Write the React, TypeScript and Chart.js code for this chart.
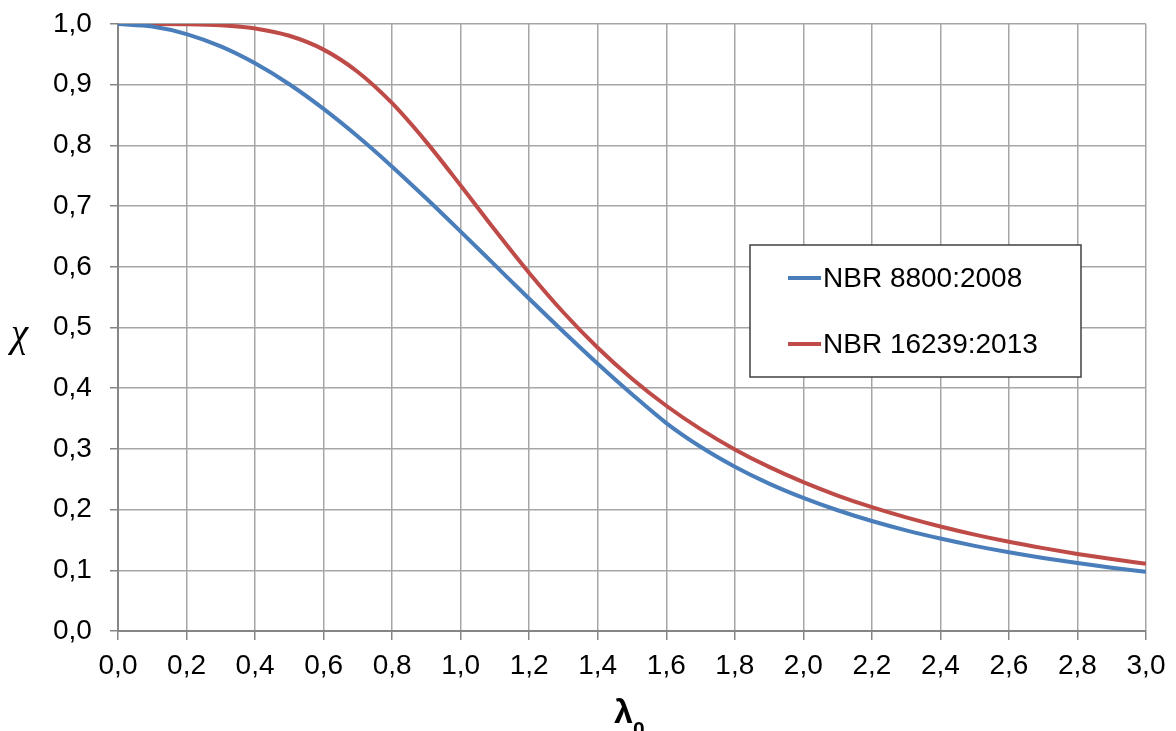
import React, { useEffect, useRef } from "react";
import { Chart, registerables } from "chart.js";

Chart.register(...registerables);

const lambda = [0.0, 0.1, 0.2, 0.3, 0.4, 0.5, 0.6, 0.7, 0.8, 0.9, 1.0, 1.1, 1.2, 1.3, 1.4, 1.5, 1.6, 1.7, 1.8, 1.9, 2.0, 2.1, 2.2, 2.3, 2.4, 2.5, 2.6, 2.7, 2.8, 2.9, 3.0];
const chiNBR8800 = [1.0, 0.9958, 0.9834, 0.963, 0.9352, 0.9007, 0.8601, 0.8146, 0.765, 0.7125, 0.658, 0.6027, 0.5473, 0.493, 0.4403, 0.39, 0.3426, 0.3035, 0.2707, 0.2429, 0.2193, 0.1989, 0.1812, 0.1658, 0.1523, 0.1403, 0.1297, 0.1203, 0.1119, 0.1043, 0.0974];
const chiNBR16239 = [1.0, 1.0, 0.9997, 0.998, 0.9927, 0.9806, 0.9578, 0.921, 0.8695, 0.8054, 0.7339, 0.6605, 0.5898, 0.5247, 0.4666, 0.4155, 0.3711, 0.3326, 0.2992, 0.2703, 0.2452, 0.2232, 0.204, 0.1871, 0.1721, 0.1588, 0.147, 0.1365, 0.127, 0.1185, 0.1108];
const seriesLabels = ["NBR 8800:2008", "NBR 16239:2013"];
const seriesColors = ["#4A7EBB", "#BE4B48"];

const fmt = (v: number) => v.toFixed(1).replace(".", ",");
const FONT = '"Liberation Sans", Arial, sans-serif';

const overlayPlugin = {
  id: "overlay",
  afterDraw(chart: any) {
    const ctx = chart.ctx;
    ctx.save();
    // legend box
    const lx = 750, ly = 245, lw = 331, lh = 132;
    ctx.fillStyle = "#ffffff";
    ctx.fillRect(lx, ly, lw, lh);
    ctx.strokeStyle = "#404040";
    ctx.lineWidth = 1.5;
    ctx.strokeRect(lx, ly, lw, lh);
    const rows = [278, 344];
    chart.data.datasets.forEach((ds: any, i: number) => {
      const y = rows[i];
      ctx.strokeStyle = ds.borderColor;
      ctx.lineWidth = 4;
      ctx.lineCap = "butt";
      ctx.beginPath();
      ctx.moveTo(788, y);
      ctx.lineTo(821, y);
      ctx.stroke();
      ctx.fillStyle = "#000000";
      ctx.font = "28px " + FONT;
      ctx.textAlign = "left";
      ctx.textBaseline = "alphabetic";
      ctx.fillText(ds.label, 823, y + 9);
    });
    // y title
    ctx.fillStyle = "#000000";
    ctx.font = 'italic 39px "Liberation Serif", serif';
    ctx.textAlign = "left";
    ctx.textBaseline = "alphabetic";
    ctx.fillText("χ", 11, 346);
    // x title
    ctx.font = "bold 34px " + FONT;
    ctx.fillText("λ", 614, 723);
    ctx.font = "bold 21px " + FONT;
    ctx.fillText("0", 633, 736);
    ctx.restore();
  },
};

export default function App() {
  const ref = useRef<HTMLCanvasElement>(null);
  useEffect(() => {
    if (!ref.current) return;
    const chart = new Chart(ref.current, {
      type: "line",
      data: {
        datasets: [
          {
            label: seriesLabels[0],
            data: lambda.map((x, i) => ({ x, y: chiNBR8800[i] })),
            borderColor: seriesColors[0],
            backgroundColor: seriesColors[0],
            borderWidth: 4,
            pointRadius: 0,
            cubicInterpolationMode: "monotone",
            fill: false,
          },
          {
            label: seriesLabels[1],
            data: lambda.map((x, i) => ({ x, y: chiNBR16239[i] })),
            borderColor: seriesColors[1],
            backgroundColor: seriesColors[1],
            borderWidth: 4,
            pointRadius: 0,
            cubicInterpolationMode: "monotone",
            fill: false,
          },
        ],
      },
      options: {
        animation: false,
        responsive: true,
        maintainAspectRatio: false,
        layout: { padding: { left: 53, top: 24, right: 30, bottom: 0 } },
        plugins: { legend: { display: false }, tooltip: { enabled: false } },
        scales: {
          x: {
            type: "linear",
            min: 0,
            max: 3,
            ticks: {
              stepSize: 0.2,
              callback: (v: any) => fmt(Number(v)),
              color: "#000000",
              font: { family: FONT, size: 28 },
              padding: 9,
              maxRotation: 0,
              autoSkip: false,
            },
            grid: { color: "#A6A6A6", lineWidth: 1.5, tickLength: 9, tickColor: "#868686" },
            border: { color: "#868686", width: 2 },
            afterFit: (s: any) => {
              s.height = 100;
            },
          },
          y: {
            type: "linear",
            min: 0,
            max: 1,
            ticks: {
              stepSize: 0.1,
              callback: (v: any) => fmt(Number(v)),
              color: "#000000",
              font: { family: FONT, size: 28 },
              padding: 3,
              crossAlign: "far",
            },
            grid: { color: "#A6A6A6", lineWidth: 1.5, tickLength: 8, tickColor: "#868686" },
            border: { color: "#868686", width: 2 },
            afterFit: (s: any) => {
              s.width = 65;
            },
          },
        },
      },
      plugins: [overlayPlugin],
    });
    return () => chart.destroy();
  }, []);
  return (
    <div style={{ position: "fixed", left: 0, top: 0, width: 1176, height: 731, background: "#ffffff" }}>
      <canvas ref={ref} />
    </div>
  );
}
